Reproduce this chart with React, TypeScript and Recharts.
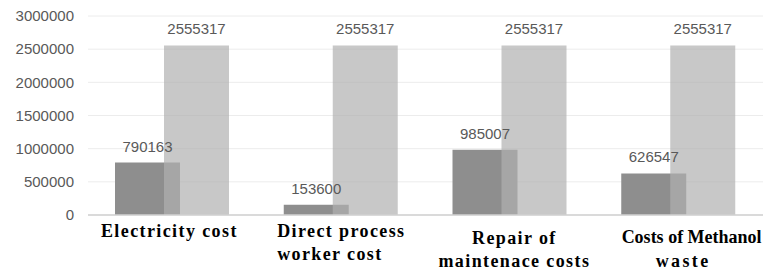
import React from "react";
import { BarChart, Bar, XAxis, YAxis, CartesianGrid, LabelList } from "recharts";

const categories = [
  "Electricity cost",
  "Direct process worker cost",
  "Repair of maintenace costs",
  "Costs of Methanol waste",
];
const categoryLines = [
  ["Electricity cost"],
  ["Direct process", "worker cost"],
  ["Repair of", "maintenace costs"],
  ["Costs of Methanol", "waste"],
];
const costValues = [790163, 153600, 985007, 626547];
const totalValues = [2555317, 2555317, 2555317, 2555317];
const yTicks = [0, 500000, 1000000, 1500000, 2000000, 2500000, 3000000];

const data = categories.map((name, i) => ({
  name,
  cost: costValues[i],
  total: totalValues[i],
}));

const SANS = "'Liberation Sans', Arial, sans-serif";
const SERIF = "'Liberation Serif', 'Times New Roman', serif";

// label layout tweaks per category (style only)
const tickLayout = [
  { anchor: "middle", dx: [-3], dy: 22, ls: [1.4] },
  { anchor: "start", dx: [-64, -64], dy: 21.5, ls: [1.4, 1.4] },
  { anchor: "middle", dx: [4.5, 4.5], dy: 28.5, ls: [1.4, 1.4] },
  { anchor: "middle", dx: [13, 4.5], dy: 28, ls: [0, 2.4] },
];

const CategoryTick = (props: any) => {
  const { x, y, payload } = props;
  const idx = categories.indexOf(payload.value);
  const lines = categoryLines[idx] || [payload.value];
  const lay = tickLayout[idx] || tickLayout[0];
  return (
    <text
      x={x}
      y={y}
      textAnchor={lay.anchor}
      fill="#000"
      fontFamily={SERIF}
      fontWeight="bold"
      fontSize={18}
    >
      {lines.map((ln: string, i: number) => (
        <tspan
          key={i}
          x={x + (lay.dx[i] ?? 0)}
          y={y + lay.dy + i * 23.5}
          letterSpacing={lay.ls[i] ?? 1.4}
        >
          {ln}
        </tspan>
      ))}
    </text>
  );
};

export default function App() {
  return (
    <div style={{ width: 755, height: 267 }}>
      <style>{`html,body{overflow:hidden}`}</style>
      <BarChart
        width={755}
        height={267}
        data={data}
        margin={{ top: 8, right: 0, left: 0, bottom: 8 }}
        barSize={65}
        barGap={-16}
      >
        <CartesianGrid vertical={false} stroke="#ececec" />
        <XAxis
          dataKey="name"
          interval={0}
          height={52}
          tickLine={false}
          tickSize={0}
          tickMargin={0}
          axisLine={{ stroke: "#d0d0d0", strokeWidth: 1.5 }}
          tick={<CategoryTick />}
        />
        <YAxis
          width={80}
          domain={[0, 3000000]}
          ticks={yTicks}
          interval={0}
          tickLine={false}
          axisLine={false}
          tickMargin={8}
          tick={{ fill: "#595959", fontSize: 15, fontFamily: SANS }}
        />
        <Bar dataKey="cost" fill="#8e8e8e" isAnimationActive={false}>
          <LabelList
            dataKey="cost"
            position="top"
            offset={11}
            fill="#595959"
            fontSize={15}
            fontFamily={SANS}
          />
        </Bar>
        <Bar dataKey="total" fill="#b1b1b1" fillOpacity={0.7} isAnimationActive={false}>
          <LabelList
            dataKey="total"
            position="top"
            offset={11}
            fill="#595959"
            fontSize={15}
            fontFamily={SANS}
          />
        </Bar>
      </BarChart>
    </div>
  );
}
